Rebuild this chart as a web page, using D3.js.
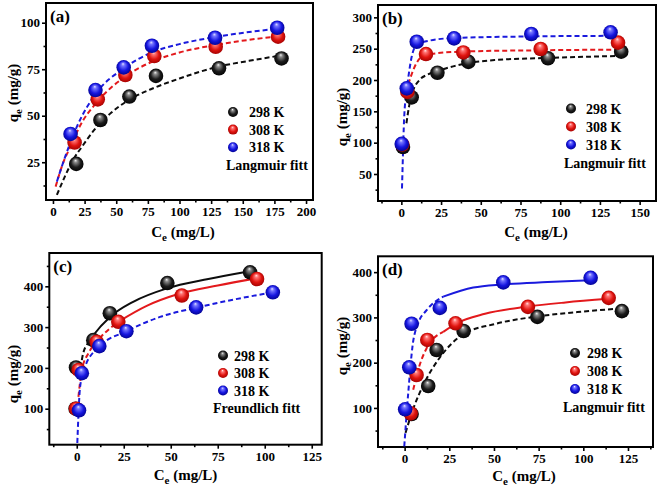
<!DOCTYPE html>
<html>
<head>
<meta charset="utf-8">
<script src="https://cdn.jsdelivr.net/npm/d3@7"></script>
<style>
  body { margin: 0; background: #fff; }
</style>
</head>
<body>
<script>
// ---- data ----
var temps = ["298 K", "308 K", "318 K"];

// (a) Langmuir
var ptsA298 = [[18.4, 24.1], [37.5, 47.7], [60.4, 60.3], [81.4, 71.4], [131.2, 75.5], [180.6, 80.8]];
var ptsA308 = [[17.1, 35.6], [35.4, 58.8], [57.2, 71.9], [80.1, 82.1], [128.6, 87.1], [177.9, 92.5]];
var ptsA318 = [[13.9, 40.2], [33.6, 63.8], [55.9, 76.0], [78.2, 87.6], [128.1, 91.9], [177.2, 97.3]];
var fitA298 = [[3.1, 7.4], [9.2, 17], [15.7, 26], [23.6, 34], [32.8, 42.5], [45, 51], [60, 58.5], [80, 65], [100, 70], [130, 76.3], [155, 79.5], [182, 82.6]];
var fitA308 = [[2.1, 11.9], [7.9, 24.4], [14.5, 34.3], [21, 44.1], [35, 57.5], [57, 71], [80, 79.5], [100, 84], [128, 88], [155, 90.8], [178, 92.7]];
var fitA318 = [[3.1, 14.6], [7.4, 23.5], [12.6, 33.5], [18.9, 44.1], [34, 62], [56, 75.5], [78, 84], [100, 88.5], [128, 92.3], [155, 95], [177, 96.7]];

// (b) Langmuir
var ptsB298 = [[1, 93], [6.5, 172.3], [22.7, 211.6], [42.2, 229], [92.3, 234.6], [138.4, 245.2]];
var ptsB308 = [[0.6, 97], [3.8, 181], [15.5, 241.4], [39, 244], [87.7, 249.5], [136.4, 259.6]];
var ptsB318 = [[0.25, 98], [3.4, 186.7], [9.7, 261], [33.2, 266.5], [81.8, 273.4], [131.7, 276.1]];
var fitB298 = [[3.2, 131], [5, 160], [7, 180], [11.8, 201], [16, 208], [22.7, 214], [30, 220], [42, 227], [60, 232], [90, 235], [138, 238.5]];
var fitB308 = [[3, 181], [5, 198], [7.5, 216], [12.8, 237], [20, 242], [40, 245.5], [90, 247.5], [135, 248.5]];
var fitB318 = [[0.4, 27], [1, 80], [1.7, 136], [3.4, 184], [5, 215], [6.5, 237], [9.7, 256], [18, 263], [33, 267], [80, 269.5], [132, 270.5]];

// (c) Freundlich
var ptsC298 = [[-0.6, 100], [-0.4, 201], [8.8, 268], [17.6, 334], [48.2, 408], [92.2, 434.3]];
var ptsC308 = [[-0.4, 100], [1, 195], [10.6, 264], [22.1, 313], [55.9, 377.5], [95.9, 418]];
var ptsC318 = [[1.2, 96], [2.7, 187], [12, 253.5], [26.4, 290], [63.5, 348.5], [104.3, 385.3]];
var fitC298 = [[1.8, 180], [2.7, 219], [5.3, 256], [8.8, 280], [17.7, 325], [30, 362], [48, 395], [70, 418], [92, 437]];
var fitC308 = [[0.9, 129], [2.7, 195], [6.2, 236], [10.6, 264], [22.1, 313], [37.2, 352], [54, 381], [75, 402], [96, 420]];
var fitC318 = [[0.3, 16], [1.8, 154], [4.4, 203], [12, 252], [26.6, 290], [44.3, 325], [64, 348], [84, 368], [104, 385]];

// (d) Langmuir
var ptsD298 = [[3.9, 86.5], [13.2, 148.5], [17.9, 228], [33, 270], [74.3, 301.2], [121.6, 313.8]];
var ptsD308 = [[3.4, 88], [6.7, 172.8], [12.7, 250.2], [28.5, 287], [69, 323.3], [114.2, 343.2]];
var ptsD318 = [[0.3, 97], [2.6, 189.8], [3.9, 286], [19.7, 321], [55.2, 377.5], [104.1, 387.5]];
var fitD298 = [[0.5, 45], [5, 100], [10.4, 150], [19.8, 212], [32.5, 262], [50, 285], [74, 302], [100, 313], [122, 320]];
var fitD308 = [[4.8, 140], [8.2, 192], [12.3, 232], [21.6, 268], [29, 287], [45, 308], [69, 324], [90, 333], [114, 341]];
var fitD318 = [[-0.2, 15], [2, 132], [4.5, 239], [7.6, 287], [12.3, 316], [21.6, 346], [38.4, 366], [55, 373], [80, 378], [104, 382]];

// axis ticks
var xTicksA = [0, 25, 50, 75, 100, 125, 150, 175, 200];
var yTicksA = [25, 50, 75, 100];
var xTicksB = [0, 25, 50, 75, 100, 125, 150];
var yTicksB = [50, 100, 150, 200, 250, 300];
var xTicksC = [0, 25, 50, 75, 100, 125];
var yTicksC = [100, 200, 300, 400];
var xTicksD = [0, 25, 50, 75, 100, 125];
var yTicksD = [100, 200, 300, 400];

// ---- styling ----
var FONT = "'Liberation Serif'";
var colors = ["#0d0d0d", "#e3191c", "#1a1add"];
var ballStops = [
  ["#f2f2f2", "#8a8a8a", "#1c1c1c", "#000000"],
  ["#ffe4e4", "#ff7474", "#e0140f", "#9c0000"],
  ["#e4e4ff", "#7474ff", "#1616e0", "#000088"]
];

var W = 658, H = 488;
var svg = d3.select("body").append("svg").attr("width", W).attr("height", H);
var defs = svg.append("defs");

function addBall(id, stops) {
  var g = defs.append("radialGradient").attr("id", id)
    .attr("cx", "50%").attr("cy", "50%").attr("r", "55%")
    .attr("fx", "45%").attr("fy", "25%");
  [0, 0.2, 0.6, 1].forEach(function(o, i) {
    g.append("stop").attr("offset", o).attr("stop-color", stops[i]);
  });
}
ballStops.forEach(function(s, i) { addBall("ball" + i, s); });

var panels = [
  { lab: "(a)", L: 46, T: 3, R: 313, B: 200, xd: [-5.5, 205.5], yd: [4.7, 110.6],
    xt: xTicksA, yt: yTicksA, xm: 12.5, ym: 12.5,
    pts: [ptsA298, ptsA308, ptsA318], fits: [fitA298, fitA308, fitA318], solid: [null, null, null],
    fitName: "Langmuir fitt", lg: { mx: 233, tx: 249, fx: 226, y0: 112, dy: 17.6 },
    xTitle: [183, 237], yTitle: [18, 93] },
  { lab: "(b)", L: 378, T: 5, R: 656, B: 201, xd: [-14.7, 160.3], yd: [6.9, 319.7],
    xt: xTicksB, yt: yTicksB, xm: 12.5, ym: 25,
    pts: [ptsB298, ptsB308, ptsB318], fits: [fitB298, fitB308, fitB318], solid: [null, null, null],
    fitName: "Langmuir fitt", lg: { mx: 571, tx: 586, fx: 564, y0: 108.5, dy: 18 },
    xTitle: [536, 237], yTitle: [347, 117] },
  { lab: "(c)", L: 49.3, T: 253, R: 321.7, B: 444.7, xd: [-14.6, 130.3], yd: [11.7, 481.7],
    xt: xTicksC, yt: yTicksC, xm: 12.5, ym: 50,
    pts: [ptsC298, ptsC308, ptsC318], fits: [fitC298, fitC308, fitC318], solid: [5, 12, null],
    fitName: "Freundlich fitt", lg: { mx: 223, tx: 234, fx: 213, y0: 355.5, dy: 17.5 },
    xTitle: [185.5, 480], yTitle: [18, 374] },
  { lab: "(d)", L: 378, T: 256.3, R: 653, B: 447, xd: [-14.9, 139], yd: [13.7, 435],
    xt: xTicksD, yt: yTicksD, xm: 12.5, ym: 50,
    pts: [ptsD298, ptsD308, ptsD318], fits: [fitD298, fitD308, fitD318], solid: [null, 15, 20],
    fitName: "Langmuir fitt", lg: { mx: 575, tx: 587, fx: 563, y0: 353, dy: 18 },
    xTitle: [524, 481], yTitle: [347, 346] }
];

function minorTicks(domain, step, majors) {
  var out = [];
  var v = Math.ceil(domain[0] / step) * step;
  for (; v <= domain[1]; v += step) {
    if (majors.indexOf(+v.toFixed(4)) < 0) out.push(v);
  }
  return out;
}

function drawPanel(p) {
  var g = svg.append("g");
  var x = d3.scaleLinear().domain(p.xd).range([p.L, p.R]);
  var y = d3.scaleLinear().domain(p.yd).range([p.B, p.T]);

  // axes (ticks outward)
  var xAx = g.append("g").attr("transform", "translate(0," + p.B + ")")
    .call(d3.axisBottom(x).tickValues(p.xt).tickSize(4).tickPadding(3).tickFormat(d3.format("d")));
  var xMin = g.append("g").attr("transform", "translate(0," + p.B + ")")
    .call(d3.axisBottom(x).tickValues(minorTicks(p.xd, p.xm, p.xt)).tickSize(2.5).tickFormat(""));
  var yAx = g.append("g").attr("transform", "translate(" + p.L + ",0)")
    .call(d3.axisLeft(y).tickValues(p.yt).tickSize(4).tickPadding(2).tickFormat(d3.format("d")));
  var yMin = g.append("g").attr("transform", "translate(" + p.L + ",0)")
    .call(d3.axisLeft(y).tickValues(minorTicks(p.yd, p.ym, p.yt)).tickSize(2.5).tickFormat(""));
  [xAx, xMin, yAx, yMin].forEach(function(a) {
    a.select(".domain").remove();
    a.selectAll("line").attr("stroke", "#000").attr("stroke-width", 1.6);
    a.selectAll("text").attr("fill", "#000").style("font-size", "13px");
  });

  // frame
  g.append("rect").attr("x", p.L).attr("y", p.T)
    .attr("width", p.R - p.L).attr("height", p.B - p.T)
    .attr("fill", "none").attr("stroke", "#000").attr("stroke-width", 2);

  // fit curves
  var line = d3.line()
    .x(function(d) { return x(d[0]); })
    .y(function(d) { return y(d[1]); })
    .curve(d3.curveMonotoneX);
  p.fits.forEach(function(f, i) {
    var parts = [];
    if (p.solid[i] == null) {
      parts.push([f, true]);
    } else {
      var k = f.findIndex(function(d) { return d[0] >= p.solid[i]; });
      parts.push([f.slice(0, k + 1), true]);
      parts.push([f.slice(k), false]);
    }
    parts.forEach(function(pt) {
      g.append("path").datum(pt[0])
        .attr("d", line)
        .attr("fill", "none")
        .attr("stroke", colors[i])
        .attr("stroke-width", 2)
        .attr("stroke-dasharray", pt[1] ? "5,3" : null);
    });
  });

  // data spheres
  p.pts.forEach(function(s, i) {
    g.append("g").selectAll("circle").data(s).enter().append("circle")
      .attr("cx", function(d) { return x(d[0]); })
      .attr("cy", function(d) { return y(d[1]); })
      .attr("r", 7.3)
      .attr("fill", "url(#ball" + i + ")");
  });

  // legend
  temps.forEach(function(t, i) {
    var cy = p.lg.y0 + i * p.lg.dy;
    g.append("circle").attr("cx", p.lg.mx).attr("cy", cy).attr("r", 5)
      .attr("fill", "url(#ball" + i + ")");
    g.append("text").attr("x", p.lg.tx).attr("y", cy + 5)
      .style("font-size", "14px").text(t);
  });
  g.append("text").attr("x", p.lg.fx).attr("y", p.lg.y0 + 3 * p.lg.dy + 5)
    .style("font-size", "14px").text(p.fitName);

  // panel label
  g.append("text").attr("x", p.L + 4).attr("y", p.T + 19)
    .style("font-size", "17px").text(p.lab);

  // axis titles
  var xt = g.append("text").attr("x", p.xTitle[0]).attr("y", p.xTitle[1])
    .attr("text-anchor", "middle").style("font-size", "15px");
  xt.append("tspan").text("C");
  xt.append("tspan").attr("dy", 4).style("font-size", "11px").text("e");
  xt.append("tspan").attr("dy", -4).text(" (mg/L)");

  var yt = g.append("text")
    .attr("transform", "translate(" + p.yTitle[0] + "," + p.yTitle[1] + ") rotate(-90)")
    .attr("text-anchor", "middle").style("font-size", "15px");
  yt.append("tspan").text("q");
  yt.append("tspan").attr("dy", 4).style("font-size", "11px").text("e");
  yt.append("tspan").attr("dy", -4).text(" (mg/g)");
}

panels.forEach(drawPanel);

// serif bold for every label
svg.selectAll("text")
  .style("font-family", FONT)
  .style("font-weight", "bold")
  .attr("fill", "#000");
</script>
</body>
</html>
